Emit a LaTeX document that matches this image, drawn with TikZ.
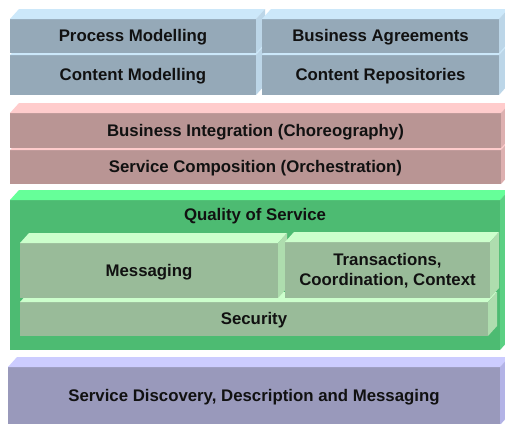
\documentclass[tikz,border=0pt]{standalone}
\usepackage{fontspec}
\setmainfont{Liberation Sans}
\definecolor{bluefront}{HTML}{95A9B8}
\definecolor{bluetop}{HTML}{CCE8FA}
\definecolor{blueside}{HTML}{BCD6E8}
\definecolor{pinkfront}{HTML}{B99594}
\definecolor{pinktop}{HTML}{FFCCCC}
\definecolor{pinkside}{HTML}{DDB0B0}
\definecolor{greenfront}{HTML}{4DBB72}
\definecolor{greentop}{HTML}{66FF99}
\definecolor{greenside}{HTML}{5BD083}
\definecolor{mintfront}{HTML}{99BB99}
\definecolor{minttop}{HTML}{CCFFCC}
\definecolor{mintside}{HTML}{AEDDAE}
\definecolor{lilacfront}{HTML}{9999BB}
\definecolor{lilactop}{HTML}{CCCCFF}
\definecolor{lilacside}{HTML}{B3B3E6}
\definecolor{ink}{HTML}{111111}
% depth of the cube faces
\newcommand{\bx}{9}
\newcommand{\by}{10}
% top and right faces of a cube whose front is the node #1
\newcommand{\cubefaces}[3]{%
  \fill[#2] (#1.north west) -- ([shift={(\bx,-\by)}]#1.north west)
    -- ([shift={(\bx,-\by)}]#1.north east) -- (#1.north east) -- cycle;
  \fill[#3] (#1.north east) -- ([shift={(\bx,-\by)}]#1.north east)
    -- ([shift={(\bx,-\by)}]#1.south east) -- (#1.south east) -- cycle;}
\begin{document}
\begin{tikzpicture}[x=1pt,y=-1pt,
  front/.style={anchor=north west, inner sep=0pt, outer sep=0pt, draw=none,
    text=ink, align=center, text height=15.2pt, text depth=3.6pt,
    font=\fontsize{16.8}{20}\selectfont\bfseries},
  label/.style={inner sep=0pt, text=ink, text height=15.2pt, text depth=3.6pt,
    font=\fontsize{16.8}{20}\selectfont\bfseries}]
\useasboundingbox (0,0) rectangle (505,423);
\clip (0,0) rectangle (505,423);
\fill[white] (0,0) rectangle (505,423);

% --- modelling layer ---
\node[front, fill=bluefront, minimum width=246pt, minimum height=40pt] (cm) at (10,55) {Content Modelling};
\cubefaces{cm}{bluetop}{blueside}
\node[front, fill=bluefront, minimum width=237pt, minimum height=40pt] (cr) at (262,55) {Content Repositories};
\cubefaces{cr}{bluetop}{blueside}
\node[front, fill=bluefront, minimum width=246pt, minimum height=34pt] (pm) at (10,19) {Process Modelling};
\cubefaces{pm}{bluetop}{blueside}
\node[front, fill=bluefront, minimum width=237pt, minimum height=34pt] (ba) at (262,19) {Business Agreements};
\cubefaces{ba}{bluetop}{blueside}

% --- composition layer ---
\node[front, fill=pinkfront, minimum width=491pt, minimum height=34pt] (sc) at (10,150) {Service Composition (Orchestration)};
\cubefaces{sc}{pinktop}{pinkside}
\node[front, fill=pinkfront, minimum width=491pt, minimum height=35pt] (bi) at (10,113) {Business Integration (Choreography)};
\cubefaces{bi}{pinktop}{pinkside}

% --- quality of service layer ---
\node[front, fill=greenfront, minimum width=490pt, minimum height=150pt] (qos) at (10,200) {};
\cubefaces{qos}{greentop}{greenside}
\node[label] (qost) at (255,215) {Quality of Service};
\node[front, fill=mintfront, minimum width=468pt, minimum height=34pt] (sec) at (20,302) {Security};
\cubefaces{sec}{minttop}{mintside}
\node[front, fill=mintfront, minimum width=258pt, minimum height=55pt] (msg) at (20,243) {Messaging};
\cubefaces{msg}{minttop}{mintside}
\node[front, fill=mintfront, minimum width=205pt, minimum height=56pt, text height=33.6pt] (tcc) at (285,242) {Transactions,\\Coordination, Context};
\cubefaces{tcc}{minttop}{mintside}

% --- foundation layer ---
\node[front, fill=lilacfront, minimum width=492pt, minimum height=58pt] (sdd) at (8,367) {Service Discovery, Description and Messaging};
\cubefaces{sdd}{lilactop}{lilacside}
\end{tikzpicture}
\end{document}
